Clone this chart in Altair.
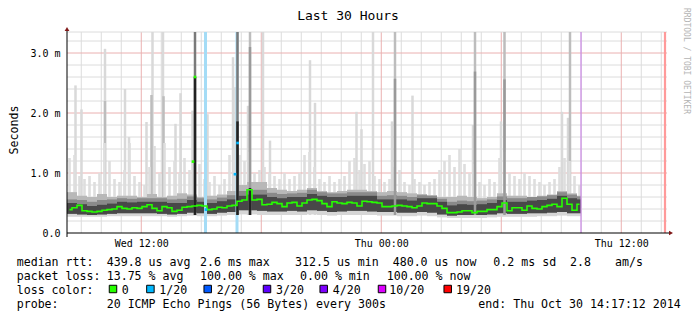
import altair as alt
import pandas as pd

MONO = "DejaVu Sans Mono"
START = pd.Timestamp("2014-10-29 08:17:12")
Y_TOP = 3.35
DATA_END_H = 25.7     # purple marker / last sample (hours after start)
NOW_H = 29.9          # red "now" line (hours after start)

# median rtt (ms), one value every 15 minutes from the start
median_ms = [0.39, 0.42, 0.46, 0.37, 0.36, 0.35, 0.36, 0.38, 0.39, 0.40,
             0.44, 0.41, 0.40, 0.42, 0.41, 0.44, 0.47, 0.41, 0.37, 0.44,
             0.42, 0.36, 0.38, 0.43, 0.44, 0.45, 0.46, 0.45, 0.39, 0.40,
             0.43, 0.42, 0.45, 0.46, 0.53, 0.55, 0.72, 0.55, 0.56, 0.47,
             0.48, 0.51, 0.49, 0.44, 0.50, 0.51, 0.45, 0.50, 0.55, 0.56,
             0.54, 0.49, 0.44, 0.52, 0.50, 0.49, 0.51, 0.50, 0.45, 0.53,
             0.52, 0.51, 0.50, 0.44, 0.44, 0.45, 0.46, 0.45, 0.44, 0.42,
             0.45, 0.50, 0.49, 0.49, 0.45, 0.41, 0.34, 0.34, 0.35, 0.37,
             0.37, 0.34, 0.36, 0.36, 0.39, 0.39, 0.44, 0.50, 0.37, 0.42,
             0.42, 0.38, 0.45, 0.41, 0.40, 0.44, 0.46, 0.48, 0.44, 0.58,
             0.48, 0.38, 0.48]

# light smoke needles (ms), one value every 15 minutes
smoke_needle = [1.25, 1.30, 0.95, 0.90, 0.95, 0.85, 1.00, 1.50, 1.20, 0.90,
                0.85, 1.05, 1.50, 0.95, 0.85, 0.80, 1.10, 1.45, 1.00, 1.50,
                1.10, 1.20, 1.00, 1.25, 1.05, 1.20, 1.15, 0.90, 0.85, 0.95,
                0.80, 0.90, 1.30, 1.40, 1.30, 1.20, 1.35, 1.00, 1.05, 1.10,
                1.00, 0.95, 0.90, 1.00, 0.90, 0.95, 1.00, 1.30, 1.35, 1.10,
                0.90, 0.85, 0.95, 0.85, 0.90, 0.95, 1.20, 1.25, 1.05, 1.15,
                1.20, 0.95, 0.90, 0.85, 0.90, 1.10, 1.05, 0.85, 0.80, 0.90,
                0.85, 0.80, 0.85, 0.90, 1.05, 1.20, 1.30, 1.10, 1.40, 1.15,
                1.00, 1.15, 0.85, 0.80, 0.90, 0.85, 1.25, 1.35, 1.00, 0.95,
                0.90, 1.00, 0.95, 0.90, 0.85, 0.80, 0.85, 0.90, 1.10, 1.25,
                1.20, 0.95, 0.80]

# smoke envelope (ms), one value every 30 minutes
smoke_lo = [0.27, 0.27, 0.27, 0.27, 0.28, 0.28, 0.28, 0.28, 0.28, 0.28, 0.27, 0.28, 0.29, 0.28, 0.28, 0.29, 0.30,
            0.31, 0.31, 0.30, 0.30, 0.30, 0.30, 0.30, 0.31, 0.30, 0.29, 0.30, 0.30, 0.30, 0.30, 0.29, 0.29, 0.28,
            0.28, 0.29, 0.28, 0.26, 0.25, 0.25, 0.25, 0.25, 0.26, 0.27, 0.27, 0.27, 0.27, 0.28, 0.28, 0.29, 0.28, 0.28]
smoke_dk_lo = [0.32, 0.31, 0.30, 0.31, 0.32, 0.33, 0.33, 0.33, 0.33, 0.32, 0.31, 0.32, 0.34, 0.33, 0.32, 0.34, 0.35,
               0.38, 0.38, 0.37, 0.36, 0.36, 0.37, 0.36, 0.38, 0.37, 0.35, 0.36, 0.37, 0.37, 0.36, 0.35, 0.35, 0.34,
               0.34, 0.35, 0.34, 0.31, 0.29, 0.30, 0.30, 0.30, 0.31, 0.33, 0.32, 0.32, 0.33, 0.33, 0.34, 0.35, 0.33, 0.33]
smoke_dk_hi = [0.50, 0.48, 0.45, 0.47, 0.49, 0.52, 0.51, 0.52, 0.52, 0.52, 0.50, 0.50, 0.55, 0.52, 0.50, 0.53, 0.56,
               0.62, 0.64, 0.64, 0.60, 0.58, 0.60, 0.60, 0.65, 0.62, 0.60, 0.60, 0.62, 0.62, 0.62, 0.56, 0.56, 0.56,
               0.54, 0.58, 0.58, 0.52, 0.46, 0.48, 0.47, 0.48, 0.50, 0.55, 0.52, 0.52, 0.54, 0.55, 0.57, 0.62, 0.58, 0.56]
smoke_m1_hi = [0.56, 0.55, 0.52, 0.55, 0.56, 0.58, 0.57, 0.58, 0.58, 0.58, 0.56, 0.57, 0.61, 0.58, 0.56, 0.59, 0.63,
               0.70, 0.72, 0.72, 0.67, 0.65, 0.66, 0.67, 0.72, 0.68, 0.66, 0.66, 0.68, 0.68, 0.68, 0.62, 0.63, 0.62,
               0.60, 0.63, 0.62, 0.57, 0.52, 0.54, 0.53, 0.54, 0.56, 0.61, 0.58, 0.58, 0.60, 0.61, 0.63, 0.68, 0.64, 0.61]
smoke_md_hi = [0.68, 0.62, 0.60, 0.65, 0.60, 0.62, 0.62, 0.60, 0.65, 0.60, 0.62, 0.66, 0.64, 0.60, 0.62, 0.64, 0.70,
               0.80, 0.85, 0.85, 0.75, 0.72, 0.70, 0.72, 0.75, 0.70, 0.68, 0.70, 0.72, 0.72, 0.70, 0.68, 0.70, 0.68,
               0.66, 0.65, 0.63, 0.60, 0.60, 0.62, 0.60, 0.58, 0.60, 0.66, 0.62, 0.62, 0.60, 0.62, 0.64, 0.70, 0.66, 0.62]

# isolated smoke spikes: hours after start, top (ms), shade
spike_h = [0.425, 0.725, 1.9, 1.9, 2.9, 3.1, 3.975, 4.275, 4.225, 4.8, 4.825, 5.425, 5.675, 6.275,
           6.4, 6.4, 7.025, 8.3, 8.425, 8.525, 8.525, 9.05, 9.15, 9.15, 9.15, 9.8, 10.15, 12.15, 12.4,
           14.475, 14.725, 15.3, 16.25, 16.4, 16.4, 17.275, 20.3, 20.4, 20.4, 21.7, 21.875, 21.875,
           24.75, 25.05, 25.15]
spike_top = [2.46, 2.06, 3.07, 2.2, 2.4, 1.6, 1.85, 3.35, 2.3, 3.35, 2.28, 1.82, 2.33, 2.04,
             3.35, 2.6, 1.98, 2.93, 2.43, 3.35, 1.86, 2.12, 3.35, 3.1, 0.75, 3.35, 1.54, 2.88, 2.17,
             2.02, 1.73, 3.35, 1.86, 3.35, 2.57, 2.29, 1.8, 3.35, 2.69, 1.86, 3.35, 2.56,
             2.02, 1.92, 3.35]
spike_shade = ["l", "l", "l", "m", "l", "l", "l", "l", "m", "l", "m", "l", "l", "l",
               "k", "b", "l", "l", "l", "k", "b", "l", "m", "d", "b", "l", "l", "l", "l",
               "l", "l", "l", "l", "m", "d", "l", "l", "m", "d", "l", "m", "d",
               "l", "l", "m"]

# loss columns (hours after start)
loss_bar_h = [6.925, 8.5]
# loss-coloured median samples: hours, ms, colour
marker_h = [6.3, 6.4, 6.95, 8.4, 8.53]
marker_v = [1.19, 2.6, 0.39, 0.98, 1.5]
marker_c = ["#26ff00", "#26ff00", "#00b8ff", "#00b8ff", "#00b8ff"]

loss_labels = ["0", "1/20", "2/20", "3/20", "4/20", "10/20", "19/20"]
loss_colors = ["#26ff00", "#00b8ff", "#0059ff", "#5e00ff", "#7e00ff", "#dd00ff", "#ff0000"]


def at(h):
    return START + pd.to_timedelta(h, unit="h")


med = pd.DataFrame({"t": [at(0.125 + 0.25 * i) for i in range(len(median_ms))], "v": median_ms})
needles = pd.DataFrame({
    "t": [at(0.125 + 0.25 * i) for i in range(len(smoke_needle))],
    "top": smoke_needle, "base": [0.4] * len(smoke_needle),
})
smoke = pd.DataFrame({
    "t0": [at(0.5 * j) for j in range(len(smoke_lo))],
    "t1": [at(min(0.5 * (j + 1), DATA_END_H)) for j in range(len(smoke_lo))],
    "lo": smoke_lo, "dlo": smoke_dk_lo, "dhi": smoke_dk_hi, "m1": smoke_m1_hi, "mhi": smoke_md_hi,
})
spikes = pd.DataFrame({"t": [at(h) for h in spike_h], "top": spike_top, "shade": spike_shade,
                       "base": [0.3] * len(spike_h)})
lossbars = pd.DataFrame({"t": [at(h) for h in loss_bar_h]})
markers = pd.DataFrame({"t": [at(h) for h in marker_h], "v": marker_v, "c": marker_c})
hours = pd.date_range("2014-10-29 09:00", "2014-10-30 14:00", freq="h")
gx = pd.DataFrame({"t": hours, "major": [h.hour % 6 == 0 for h in hours]})
gy = pd.DataFrame({"v": [round(0.2 * k, 1) for k in range(1, 17)]})
gy["major"] = [abs(v - round(v)) < 1e-9 for v in gy["v"]]
vlines = pd.DataFrame({"t": [at(DATA_END_H), at(NOW_H)], "c": ["#cc88e6", "#ff9a9a"], "w": [1.2, 2.2]})

xs = alt.Scale(domain=[alt.DateTime(year=2014, month=10, date=29, hours=8, minutes=17, seconds=12),
                       alt.DateTime(year=2014, month=10, date=30, hours=14, minutes=17, seconds=12)],
               nice=False)
ys = alt.Scale(domain=[0, Y_TOP], nice=False, zero=False)
XAX = alt.Axis(values=[alt.DateTime(year=2014, month=10, date=29, hours=12),
                       alt.DateTime(year=2014, month=10, date=30, hours=0),
                       alt.DateTime(year=2014, month=10, date=30, hours=12)],
               format="%a %H:%M", title=None, grid=False, ticks=False, domain=False,
               labelFont=MONO, labelFontSize=10, labelColor="#000", labelPadding=5,
               labelFlush=False, labelOverlap=False)
YAX = alt.Axis(values=[0, 1, 2, 3], title=None, grid=False, ticks=False, domain=False,
               labelExpr="datum.value == 0 ? '0.0' : format(datum.value, '.1f') + ' m'",
               labelFont=MONO, labelFontSize=10, labelColor="#000", labelPadding=7)


def X(f):
    return alt.X(f, type="temporal", scale=xs, axis=XAX)


def Y(f):
    return alt.Y(f, type="quantitative", scale=ys, axis=YAX)


layers = []
# grid
layers.append(alt.Chart(gx).transform_filter("!datum.major").mark_rule(color="#dcdcdc", strokeWidth=1)
              .encode(x=X("t"), y=alt.value(0), y2=alt.value(201)))
layers.append(alt.Chart(gy).transform_filter("!datum.major").mark_rule(color="#dcdcdc", strokeWidth=1)
              .encode(y=Y("v"), x=alt.value(0), x2=alt.value(600)))
layers.append(alt.Chart(gx).transform_filter("datum.major").mark_rule(color="#eab0b0", strokeWidth=1)
              .encode(x=X("t"), y=alt.value(0), y2=alt.value(201)))
layers.append(alt.Chart(gy).transform_filter("datum.major").mark_rule(color="#eab0b0", strokeWidth=1)
              .encode(y=Y("v"), x=alt.value(0), x2=alt.value(600)))
layers.append(alt.Chart(pd.DataFrame({"k": [0]})).mark_rule(color="#dcdcdc")
              .encode(y=alt.value(0), x=alt.value(0), x2=alt.value(600)))

shade_color = {"l": "#d9d9d9", "m": "#bdbdbd", "d": "#9a9a9a", "k": "#7a7a7a", "b": "#222222"}
for s in ["l", "m"]:
    layers.append(alt.Chart(spikes).transform_filter(f"datum.shade == '{s}'")
                  .mark_rule(color=shade_color[s], strokeWidth=2.5)
                  .encode(x=X("t"), y=Y("top"), y2="base"))

# smoke bands
layers.append(alt.Chart(needles).mark_rule(color="#dedede", strokeWidth=2.6)
              .encode(x=X("t"), y=Y("base"), y2="top"))
layers.append(alt.Chart(smoke).mark_rect(color="#d6d6d6").encode(x=X("t0"), x2="t1", y=Y("lo"), y2="mhi"))
layers.append(alt.Chart(smoke).mark_rect(color="#b8b8b8").encode(x=X("t0"), x2="t1", y=Y("dlo"), y2="mhi"))
layers.append(alt.Chart(smoke).mark_rect(color="#8a8a8a").encode(x=X("t0"), x2="t1", y=Y("dlo"), y2="m1"))
layers.append(alt.Chart(smoke).mark_rect(color="#484848").encode(x=X("t0"), x2="t1", y=Y("dlo"), y2="dhi"))

# loss columns
layers.append(alt.Chart(lossbars).mark_rule(color="#a4dcf6", strokeWidth=3)
              .encode(x=X("t"), y=alt.value(0), y2=alt.value(201)))

for s in ["d", "k", "b"]:
    layers.append(alt.Chart(spikes).transform_filter(f"datum.shade == '{s}'")
                  .mark_rule(color=shade_color[s], strokeWidth=2.5)
                  .encode(x=X("t"), y=Y("top"), y2="base"))

# median
layers.append(alt.Chart(med).mark_line(interpolate="step", color="#26ff00", strokeWidth=1.6)
              .encode(x=X("t"), y=Y("v")))
layers.append(alt.Chart(markers).mark_square(size=7, opacity=1)
              .encode(x=X("t"), y=Y("v"), color=alt.Color("c:N", scale=None)))

# vertical markers
layers.append(alt.Chart(vlines).mark_rule()
              .encode(x=X("t"), y=alt.value(0), y2=alt.value(201),
                      color=alt.Color("c:N", scale=None), strokeWidth=alt.StrokeWidth("w:Q", scale=None)))

ONE = pd.DataFrame({"k": [0]})
# axes lines and arrows
layers.append(alt.Chart(ONE).mark_rule(color="#000").encode(x=alt.value(0), y=alt.value(-3), y2=alt.value(205)))
layers.append(alt.Chart(ONE).mark_rule(color="#000").encode(y=alt.value(201), x=alt.value(0), x2=alt.value(603)))
layers.append(alt.Chart(ONE).mark_point(shape="triangle-up", filled=True, size=22, color="#801818", opacity=1)
              .encode(x=alt.value(0), y=alt.value(-3)))
layers.append(alt.Chart(ONE).mark_point(shape="triangle-right", filled=True, size=22, color="#801818", opacity=1)
              .encode(x=alt.value(604), y=alt.value(201)))


def txt(s, x, y, size=11.6, align="left", baseline="alphabetic", angle=0, color="#000"):
    return alt.Chart(ONE).mark_text(text=s, font=MONO, fontSize=size, align=align, baseline=baseline,
                                     angle=angle, color=color).encode(x=alt.value(x), y=alt.value(y))


OX, OY = 67, 32
layers.append(txt("Last 30 Hours", 348 - OX, 20 - OY, size=13, align="center"))
layers.append(txt("Seconds", 15 - OX, 130 - OY, size=11.6, align="center", baseline="middle", angle=270))
layers.append(txt("RRDTOOL / TOBI OETIKER", 686 - OX, 8 - OY, size=8, align="left", baseline="middle",
                  angle=90, color="#b4b4b4"))

legend_rows = [
    (266, [("median rtt:", 16.7), ("439.8 us avg", 106.7), ("2.6 ms max", 200), ("312.5 us min", 295),
           ("480.0 us now", 392.7), ("0.2 ms sd", 493.3), ("2.8", 570), ("am/s", 615)]),
    (280, [("packet loss:", 16.7), ("13.75 % avg", 106.7), ("100.00 % max", 200), ("0.00 % min", 300),
           ("100.00 % now", 386.7)]),
    (294, [("loss color:", 16.7)]),
    (308, [("probe:", 16.7), ("20 ICMP Echo Pings (56 Bytes) every 300s", 106.7),
           ("end: Thu Oct 30 14:17:12 2014", 478.3)]),
]
for yb, segs in legend_rows:
    for s, x in segs:
        layers.append(txt(s, x - OX, yb - OY))

sq_x = [113, 150.4, 207.7, 267, 323.7, 382, 447.7]
lab_x = [121.7, 159.3, 216.7, 276, 332.7, 389.3, 456]
for lab, col, sx, lx in zip(loss_labels, loss_colors, sq_x, lab_x):
    layers.append(alt.Chart(ONE).mark_square(size=56, filled=True, color=col, stroke="#000", strokeWidth=1,
                                             opacity=1).encode(x=alt.value(sx - OX), y=alt.value(289 - OY)))
    layers.append(txt(lab, lx - OX, 294 - OY))

chart = alt.layer(*layers).properties(
    width=600, height=201,
    autosize=alt.AutoSizeParams(type="none"),
    padding={"left": OX, "top": OY, "right": 30, "bottom": 88},
    background="white",
).configure_view(stroke=None)

chart.save("out.html", embed_options={"renderer": "svg", "actions": False})
